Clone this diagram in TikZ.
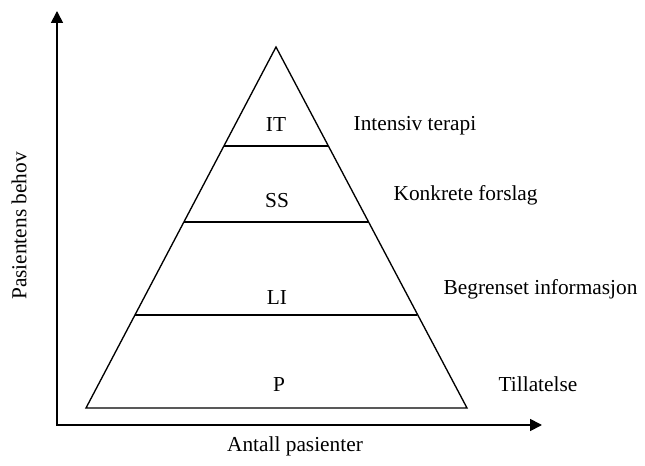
\documentclass[tikz,border=0pt]{standalone}
\usepackage{fontspec}
\setmainfont{Liberation Serif}
\usetikzlibrary{arrows.meta}
\begin{document}
\begin{tikzpicture}[x=0.75pt,y=-0.75pt,line width=1pt,
  level/.style={font=\fontsize{16}{19}\selectfont,anchor=base,inner sep=0pt},
  need/.style={font=\fontsize{16}{19}\selectfont,anchor=base west,inner sep=0pt}]
  \useasboundingbox (0,0) rectangle (645,466);
  % axes
  \coordinate (ytop) at (57,11);
  \coordinate (xend) at (542,425);
  \draw[line width=1.3pt,{Triangle[length=9pt,width=9pt]}-{Triangle[length=9pt,width=9pt]}] (ytop) |- (xend);
  \node[level] (xlab) at (295,451) {Antall pasienter};
  \node[level,anchor=center,rotate=90] (ylab) at (19,226) {Pasientens behov};
  % pyramid
  \coordinate (top) at (276,47);
  \coordinate (bl) at (86,408);
  \coordinate (br) at (467,408);
  \draw (bl)--(top)--(br)--cycle;
  \coordinate (l1) at (224,146); \coordinate (r1) at (328,146);
  \coordinate (l2) at (184,222); \coordinate (r2) at (368,222);
  \coordinate (l3) at (135,315); \coordinate (r3) at (417,315);
  \draw (l1)--(r1);
  \draw (l2)--(r2);
  \draw (l3)--(r3);
  % levels
  \node[level] (it) at (276,132) {IT};
  \node[level] (ss) at (277,208) {SS};
  \node[level] (li) at (277,305) {LI};
  \node[level] (p) at (279,391) {P};
  \node[need] (itn) at (353,131) {Intensiv terapi};
  \node[need] (ssn) at (393,201) {Konkrete forslag};
  \node[need] (lin) at (443,294) {Begrenset informasjon};
  \node[need] (pn) at (498,391) {Tillatelse};
\end{tikzpicture}
\end{document}
